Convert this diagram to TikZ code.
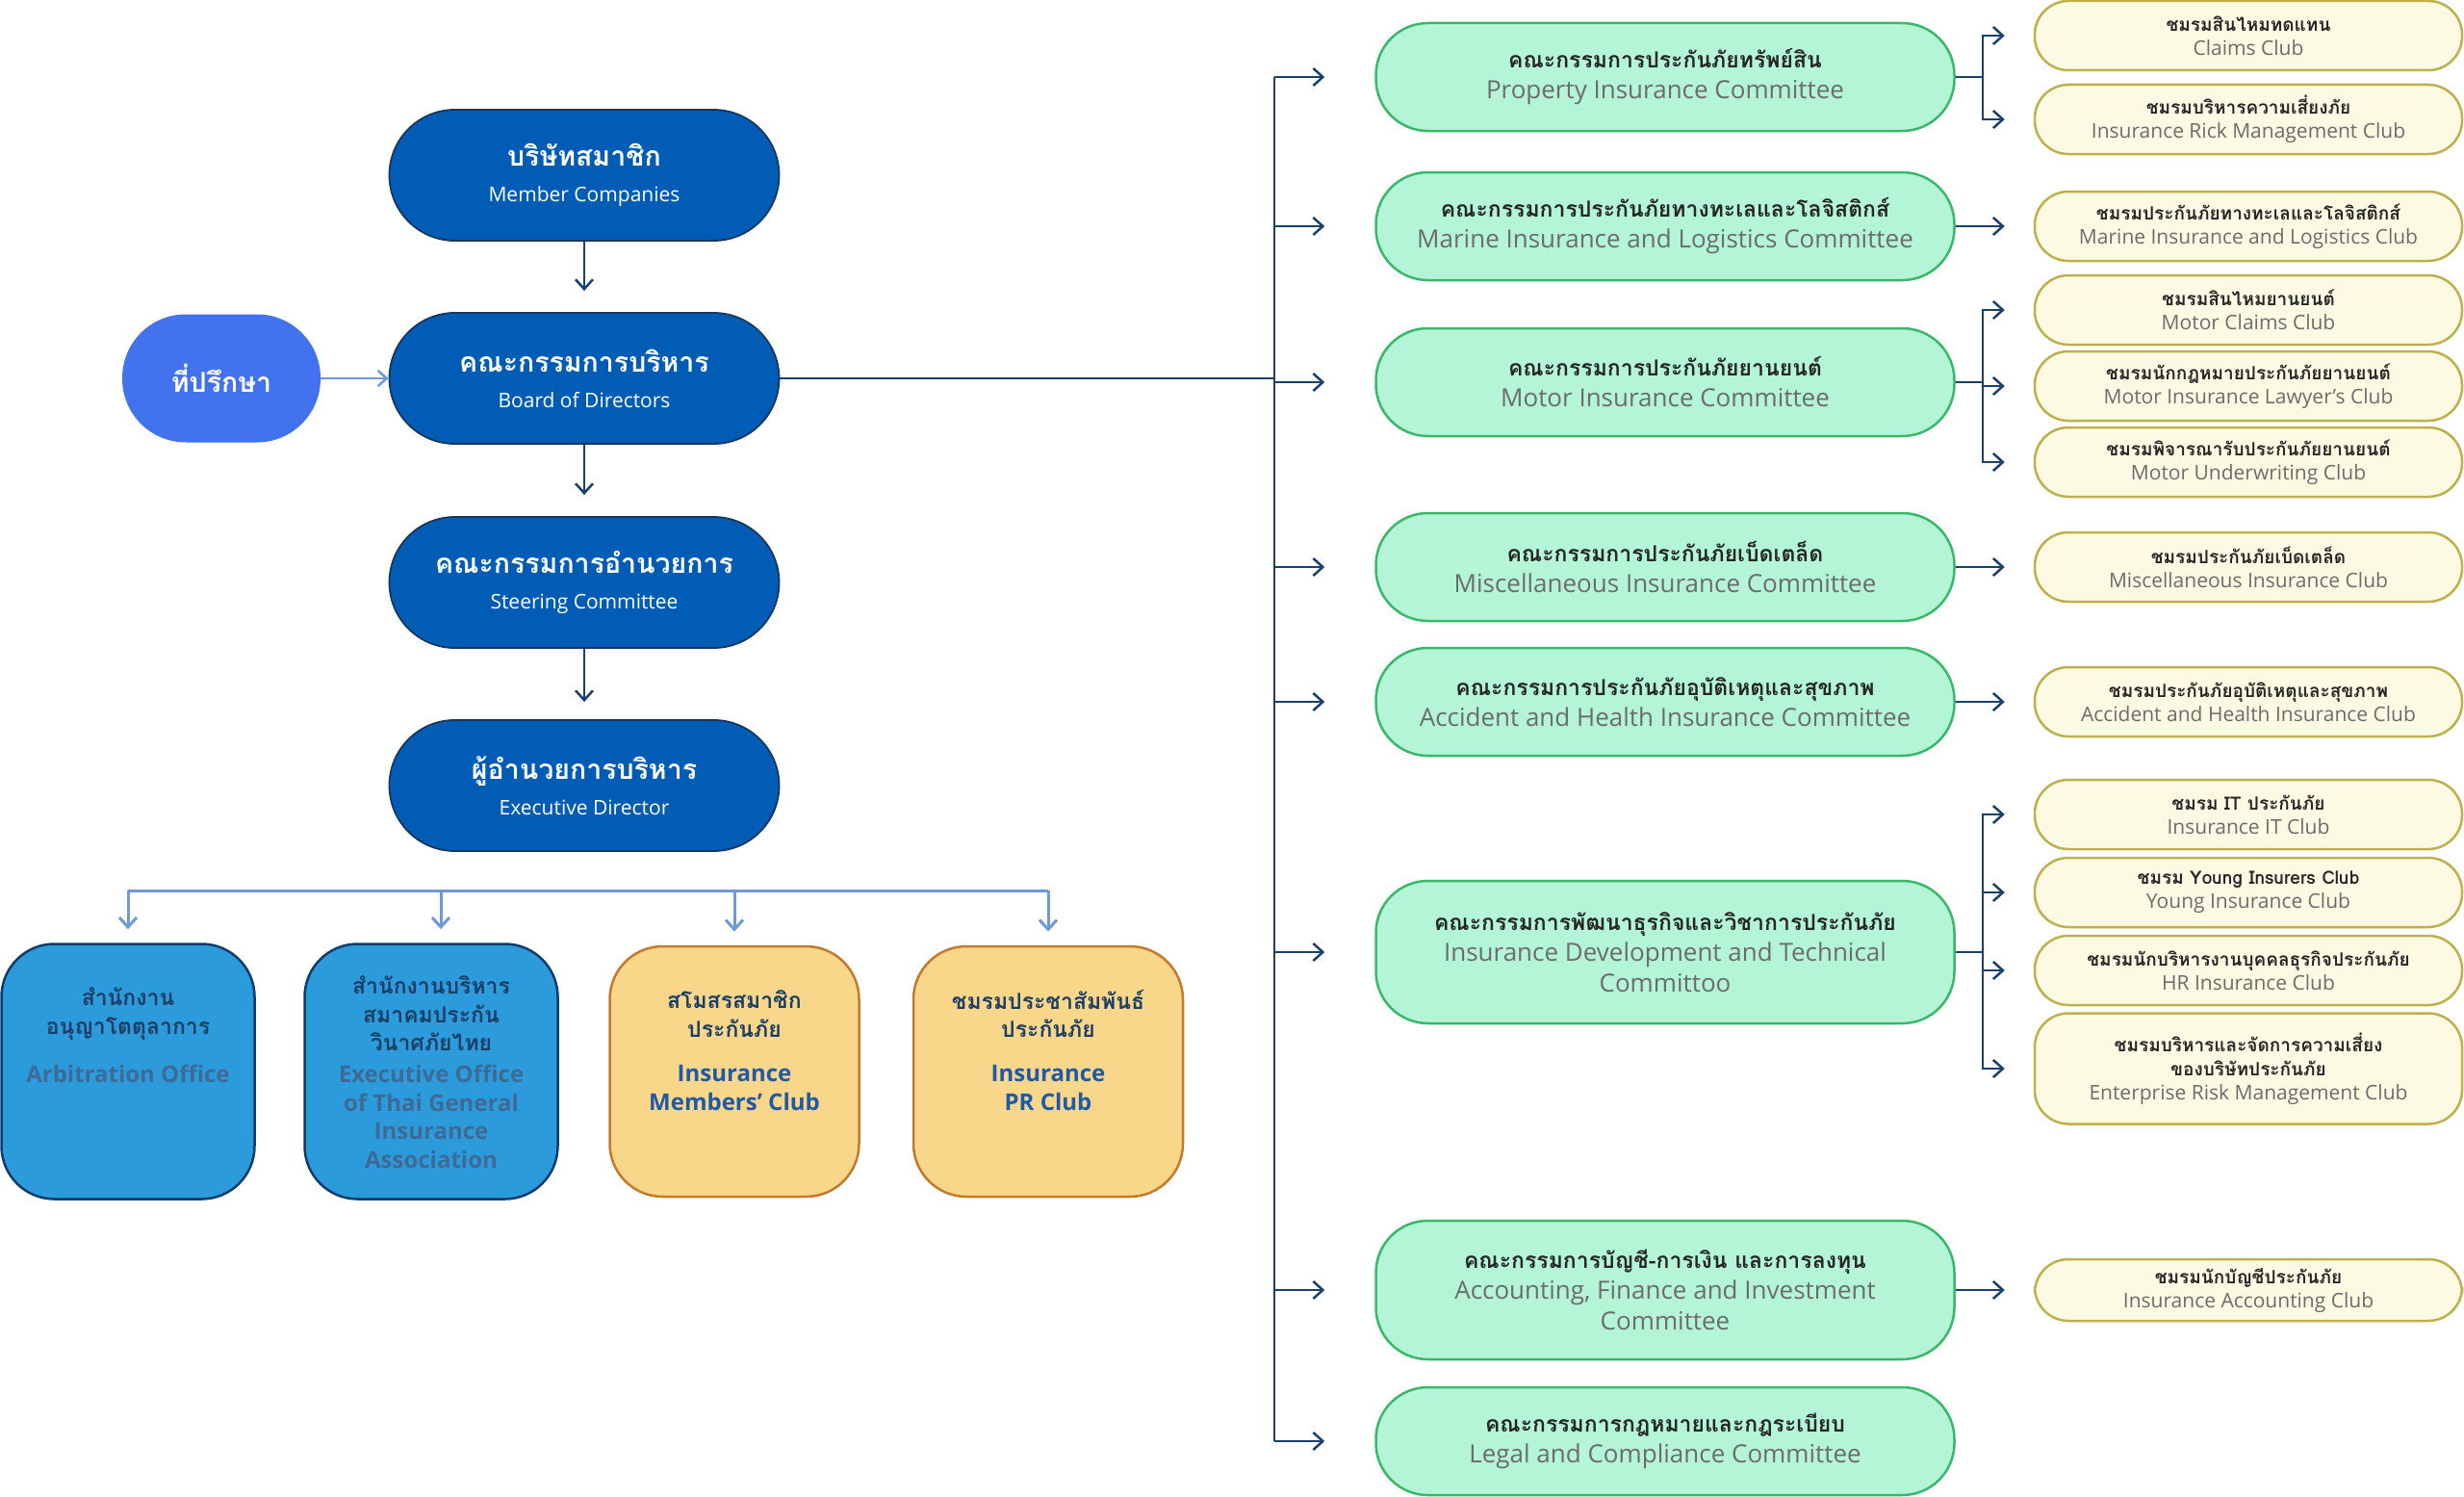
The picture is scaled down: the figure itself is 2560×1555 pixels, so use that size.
\documentclass[tikz,border=0pt]{standalone}
\usepackage{fontspec}
\setmainfont{Open Sans}
\newfontfamily\thaifont[Script=Thai]{Loma}
\usetikzlibrary{arrows.meta}

\definecolor{headblue}{RGB}{0,92,180}
\definecolor{headline}{RGB}{23,55,94}
\definecolor{advblue}{RGB}{66,114,238}
\definecolor{navy}{RGB}{26,65,107}
\definecolor{busblue}{RGB}{110,155,215}
\definecolor{offblue}{RGB}{44,155,219}
\definecolor{offline}{RGB}{14,61,107}
\definecolor{offthai}{RGB}{28,62,102}
\definecolor{offeng}{RGB}{62,106,150}
\definecolor{orfill}{RGB}{248,214,138}
\definecolor{orline}{RGB}{196,122,44}
\definecolor{oreng}{RGB}{30,90,168}
\definecolor{mint}{RGB}{179,245,214}
\definecolor{mintline}{RGB}{58,184,106}
\definecolor{cream}{RGB}{252,250,226}
\definecolor{creamline}{RGB}{191,176,78}
\definecolor{ink}{RGB}{38,38,38}
\definecolor{greytxt}{RGB}{108,108,108}

\newcommand{\thb}[1]{{\thaifont\bfseries #1}}
\newcommand{\sub}[1]{{\fontsize{21}{21}\selectfont #1}}
\newcommand{\grey}[1]{\textcolor{greytxt}{#1}}
\newcommand{\cgrey}[1]{{\fontsize{21}{21}\selectfont\textcolor{greytxt}{#1}}}
\newcommand{\kgrey}[1]{{\fontsize{26}{26}\selectfont\textcolor{greytxt}{#1}}}
% thai block on top, english below (bottom row)
\newcommand{\offtext}[2]{\parbox[c][225pt][t]{255pt}{\centering
  \parbox[c][105pt][c]{255pt}{\centering\thaifont\bfseries #1}\par
  \fontsize{24}{29.5}\selectfont\bfseries #2}}

\begin{document}
\begin{tikzpicture}[x=1pt,y=-1pt]
  \tikzstyle{every node}=[align=center,inner sep=0pt]
  \tikzstyle{headbox}=[fill=headblue,draw=headline,line width=1.8pt,rounded corners=68pt,
    minimum width=405pt,minimum height=136pt,text=white,font=\fontsize{28.5}{37}\selectfont]
  \tikzstyle{advisor}=[fill=advblue,rounded corners=66pt,minimum width=206pt,minimum height=133pt,
    text=white,font=\fontsize{28.5}{37}\selectfont]
  \tikzstyle{office}=[fill=offblue,draw=offline,line width=2.5pt,rounded corners=55pt,
    minimum width=263pt,minimum height=265pt,text=offthai,font=\fontsize{23}{29.5}\selectfont]
  \tikzstyle{society}=[fill=orfill,draw=orline,line width=2.5pt,rounded corners=55pt,
    minimum height=260pt,text=offthai,font=\fontsize{23}{29.5}\selectfont]
  \tikzstyle{committee}=[fill=mint,draw=mintline,line width=2.5pt,rounded corners=54pt,
    minimum width=601pt,minimum height=112pt,text=ink,font=\fontsize{23}{32}\selectfont]
  \tikzstyle{club}=[fill=cream,draw=creamline,line width=2.5pt,rounded corners=35pt,
    minimum width=444pt,minimum height=72pt,text=ink,font=\fontsize{19}{25}\selectfont]
  \tikzstyle{link}=[draw=navy,line width=2.5pt,-{Straight Barb[length=10pt,width=18pt]}]
  \tikzstyle{busline}=[draw=busblue,line width=3pt]
  \tikzstyle{busarrow}=[busline,-{Straight Barb[length=10pt,width=18pt]},shorten >=14pt]

  \useasboundingbox (0,0) rectangle (2560,1555);

  % left column
  \path (607,182) node[headbox] (member) {\thb{บริษัทสมาชิก}\\\sub{Member Companies}};
  \path (230,393) node[advisor] (advisor) {\thb{ที่ปรึกษา}};
  \path (607,393) node[headbox] (board) {\thb{คณะกรรมการบริหาร}\\\sub{Board of Directors}};
  \path (607,605) node[headbox] (steering) {\thb{คณะกรรมการอำนวยการ}\\\sub{Steering Committee}};
  \path (607,816) node[headbox] (director) {\thb{ผู้อำนวยการบริหาร}\\\sub{Executive Director}};

  \path (133,1113) node[office] (arbitration)
    {\offtext{สำนักงาน\\อนุญาโตตุลาการ}{\textcolor{offeng}{Arbitration Office}}};
  \path (448,1113) node[office] (execoffice)
    {\offtext{สำนักงานบริหาร\\สมาคมประกัน\\วินาศภัยไทย}{\textcolor{offeng}{Executive Office\\of Thai General\\Insurance\\Association}}};
  \path (763,1113) node[society,minimum width=259pt] (members)
    {\offtext{สโมสรสมาชิก\\ประกันภัย}{\textcolor{oreng}{Insurance\\Members' Club}}};
  \path (1089,1113) node[society,minimum width=280pt] (prclub)
    {\offtext{ชมรมประชาสัมพันธ์\\ประกันภัย}{\textcolor{oreng}{Insurance\\PR Club}}};

  \draw[link,shorten >=22pt] (member.south) -- (board.north);
  \draw[link,shorten >=22pt] (board.south) -- (steering.north);
  \draw[link,shorten >=18pt] (steering.south) -- (director.north);
  \draw[busline,line width=2.5pt,-{Straight Barb[length=9pt,width=16pt]}] (advisor.east) -- (board.west);

  \coordinate (bus) at (0,925);
  \draw[busline] (arbitration.north |- bus) -- (prclub.north |- bus);
  \foreach \n in {arbitration,members,prclub}
    \draw[busarrow] (\n.north |- bus) -- (\n.north);
  \draw[busarrow] ([xshift=10pt]execoffice.north |- bus) -- ([xshift=10pt]execoffice.north);

  % committees
  \path (1730,80) node[committee] (property) {\thb{คณะกรรมการประกันภัยทรัพย์สิน}\\\kgrey{Property Insurance Committee}};
  \path (1730,235) node[committee] (marine) {\thb{คณะกรรมการประกันภัยทางทะเลและโลจิสติกส์}\\\kgrey{Marine Insurance and Logistics Committee}};
  \path (1730,397) node[committee] (motor) {\thb{คณะกรรมการประกันภัยยานยนต์}\\\kgrey{Motor Insurance Committee}};
  \path (1730,589) node[committee] (misc) {\thb{คณะกรรมการประกันภัยเบ็ดเตล็ด}\\\kgrey{Miscellaneous Insurance Committee}};
  \path (1730,729) node[committee] (accident) {\thb{คณะกรรมการประกันภัยอุบัติเหตุและสุขภาพ}\\\kgrey{Accident and Health Insurance Committee}};
  \path (1730,989) node[committee,minimum height=148pt] (devtech) {\thb{คณะกรรมการพัฒนาธุรกิจและวิชาการประกันภัย}\\\kgrey{Insurance Development and Technical}\\\kgrey{Committoo}};
  \path (1730,1340) node[committee,minimum height=144pt] (accounting) {\thb{คณะกรรมการบัญชี-การเงิน และการลงทุน}\\\kgrey{Accounting, Finance and Investment}\\\kgrey{Committee}};
  \path (1730,1497) node[committee] (legal) {\thb{คณะกรรมการกฎหมายและกฎระเบียบ}\\\kgrey{Legal and Compliance Committee}};

  % clubs
  \path (2336,37) node[club] (claims) {\thb{ชมรมสินไหมทดแทน}\\\cgrey{Claims Club}};
  \path (2336,124) node[club] (riskclub) {\thb{ชมรมบริหารความเสี่ยงภัย}\\\cgrey{Insurance Rick Management Club}};
  \path (2336,235) node[club] (marineclub) {\thb{ชมรมประกันภัยทางทะเลและโลจิสติกส์}\\\cgrey{Marine Insurance and Logistics Club}};
  \path (2336,322) node[club] (motorclaims) {\thb{ชมรมสินไหมยานยนต์}\\\cgrey{Motor Claims Club}};
  \path (2336,401) node[club] (lawyer) {\thb{ชมรมนักกฎหมายประกันภัยยานยนต์}\\\cgrey{Motor Insurance Lawyer's Club}};
  \path (2336,480) node[club] (underwriting) {\thb{ชมรมพิจารณารับประกันภัยยานยนต์}\\\cgrey{Motor Underwriting Club}};
  \path (2336,589) node[club] (miscclub) {\thb{ชมรมประกันภัยเบ็ดเตล็ด}\\\cgrey{Miscellaneous Insurance Club}};
  \path (2336,729) node[club] (accclub) {\thb{ชมรมประกันภัยอุบัติเหตุและสุขภาพ}\\\cgrey{Accident and Health Insurance Club}};
  \path (2336,846) node[club] (itclub) {\thb{ชมรม IT ประกันภัย}\\\cgrey{Insurance IT Club}};
  \path (2336,927) node[club] (young) {\thb{ชมรม Young Insurers Club}\\\cgrey{Young Insurance Club}};
  \path (2336,1008) node[club] (hrclub) {\thb{ชมรมนักบริหารงานบุคคลธุรกิจประกันภัย}\\\cgrey{HR Insurance Club}};
  \path (2336,1110) node[club,minimum height=115pt] (erm) {\thb{ชมรมบริหารและจัดการความเสี่ยง}\\\thb{ของบริษัทประกันภัย}\\\cgrey{Enterprise Risk Management Club}};
  \path (2336,1340) node[club,minimum height=64pt] (acctclub) {\thb{ชมรมนักบัญชีประกันภัย}\\\cgrey{Insurance Accounting Club}};

  % trunk from the board
  \coordinate (trunk) at (1324,0);
  \draw[link,-] (trunk |- property.west) -- (trunk |- legal.west);
  \draw[link,-] (board.east) -- (trunk |- board.east);
  \foreach \c in {property,marine,motor,misc,accident,devtech,accounting,legal}
    \draw[link,shorten >=52pt] (trunk |- \c.west) -- (\c.west);

  % committee -> club
  \draw[link,shorten >=30pt] (property.east) -- ++(28,0) |- (claims.west);
  \draw[link,shorten >=30pt] (property.east) -- ++(28,0) |- (riskclub.west);
  \draw[link,shorten >=30pt] (marine.east) -- (marineclub.west);
  \draw[link,shorten >=30pt] (motor.east) -- ++(28,0) |- (motorclaims.west);
  \draw[link,shorten >=30pt] (motor.east) -- ++(28,0) |- (lawyer.west);
  \draw[link,shorten >=30pt] (motor.east) -- ++(28,0) |- (underwriting.west);
  \draw[link,shorten >=30pt] (misc.east) -- (miscclub.west);
  \draw[link,shorten >=30pt] (accident.east) -- (accclub.west);
  \draw[link,shorten >=30pt] (devtech.east) -- ++(28,0) |- (itclub.west);
  \draw[link,shorten >=30pt] (devtech.east) -- ++(28,0) |- (young.west);
  \draw[link,shorten >=30pt] (devtech.east) -- ++(28,0) |- (hrclub.west);
  \draw[link,shorten >=30pt] (devtech.east) -- ++(28,0) |- (erm.west);
  \draw[link,shorten >=30pt] (accounting.east) -- (acctclub.west);
\end{tikzpicture}
\end{document}
